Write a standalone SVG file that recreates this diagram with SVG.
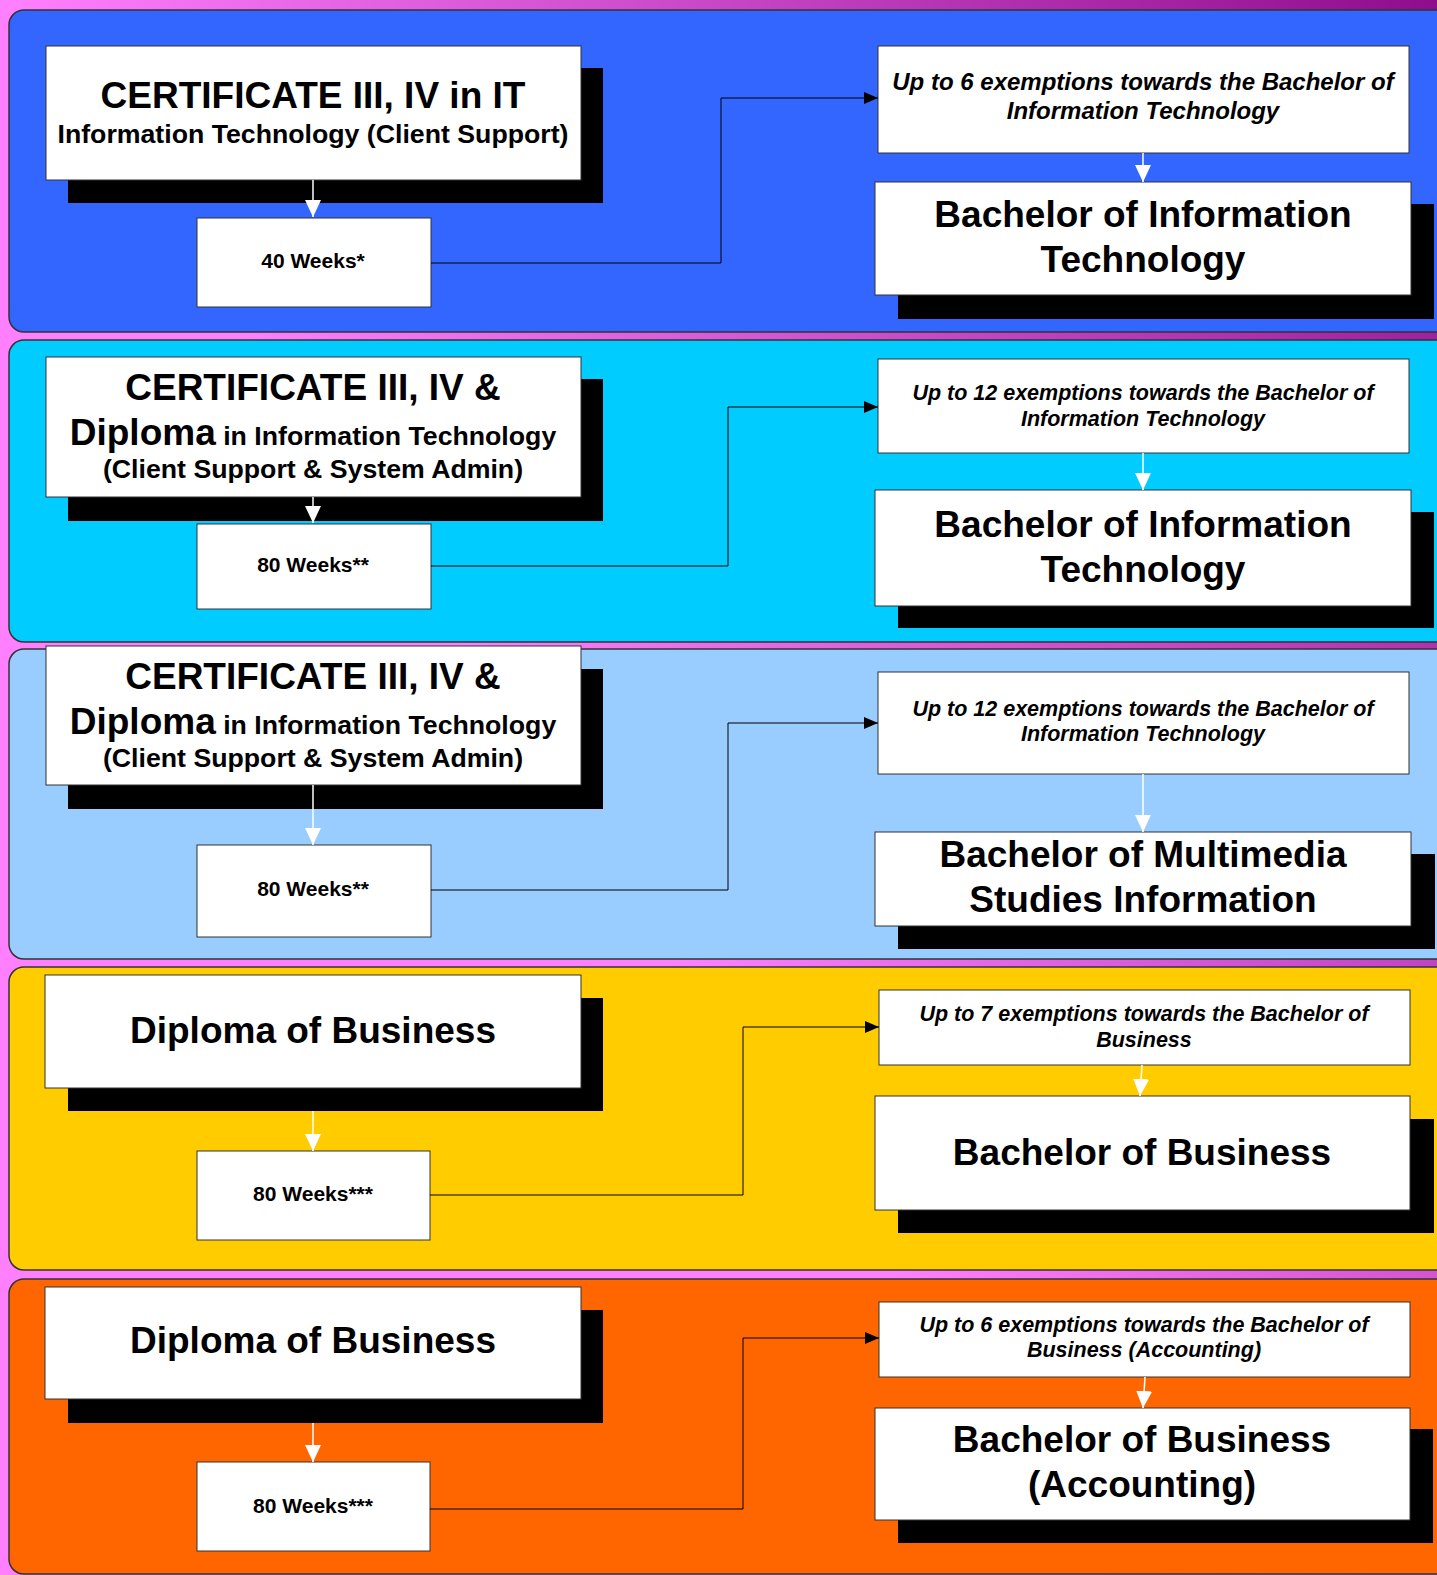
<svg xmlns="http://www.w3.org/2000/svg" width="1437" height="1575" viewBox="0 0 1437 1575">
<style>
.panel{stroke:#333333;stroke-width:1.5}
.box{fill:#ffffff;stroke:#333333;stroke-width:1}
.shadow{fill:#000000}
text{font-family:"Liberation Sans",Arial,sans-serif;font-weight:bold;fill:#000000;text-anchor:middle}
.big{font-size:37px}
.mid{font-size:26.7px}
.wk{font-size:21px}
.ex{font-size:21.5px;font-style:italic}
.ex1{font-size:24px;font-style:italic}
.conn{fill:none;stroke:#000000;stroke-width:1}
.warr{fill:none;stroke:#ffffff;stroke-width:1.5}
</style>
<defs>
<linearGradient id="bg" gradientUnits="userSpaceOnUse" x1="1437" y1="0" x2="0" y2="1000">
<stop offset="0" stop-color="#8d0d8d"/>
<stop offset="0.67" stop-color="#ff80ff"/>
<stop offset="1" stop-color="#ff80ff"/>
</linearGradient>
<marker id="ab" markerUnits="userSpaceOnUse" markerWidth="14" markerHeight="12" refX="14" refY="6" orient="auto">
<path d="M0,0 L14,6 L0,12 z" fill="#000000"/>
</marker>
<marker id="aw" markerUnits="userSpaceOnUse" markerWidth="17" markerHeight="16" refX="17" refY="8" orient="auto">
<path d="M0,0 L17,8 L0,16 z" fill="#ffffff"/>
</marker>
</defs>
<rect x="0" y="0" width="1437" height="1575" fill="url(#bg)"/>
<g id="panels">
<rect class="panel" x="9" y="10" width="1460" height="322" rx="15" fill="#3366ff"/>
<rect class="panel" x="9" y="340" width="1460" height="302" rx="15" fill="#00ccff"/>
<rect class="panel" x="9" y="649" width="1460" height="310" rx="15" fill="#99ccff"/>
<rect class="panel" x="9" y="967" width="1460" height="303" rx="15" fill="#ffcc00"/>
<rect class="panel" x="9" y="1279" width="1460" height="295" rx="15" fill="#ff6600"/>
</g>
<g id="cert1">
<rect class="shadow" x="68" y="68" width="535" height="135"/>
<rect class="box" x="46" y="46" width="535" height="134"/>
<text class="big" x="313" y="108">CERTIFICATE III, IV in IT</text>
<text class="mid" x="313" y="143">Information Technology (Client Support)</text>
</g>
<g id="weeks1">
<rect class="box" x="197" y="218" width="234" height="89"/>
<text class="wk" x="313" y="268">40 Weeks*</text>
</g>
<g id="exempt1">
<rect class="box" x="878" y="46" width="531" height="107"/>
<text class="ex1" x="1143" y="90">Up to 6 exemptions towards the Bachelor of</text>
<text class="ex1" x="1143" y="119">Information Technology</text>
</g>
<g id="bach1">
<rect class="shadow" x="898" y="204" width="536" height="115"/>
<rect class="box" x="875" y="182" width="536" height="113"/>
<text class="big" x="1143" y="227">Bachelor of Information</text>
<text class="big" x="1143" y="272">Technology</text>
</g>
<g id="cert2">
<rect class="shadow" x="68" y="379" width="535" height="142"/>
<rect class="box" x="46" y="357" width="535" height="140"/>
<text class="big" x="313" y="400">CERTIFICATE III, IV &amp;</text>
<text x="313" y="445"><tspan class="big">Diploma</tspan><tspan class="mid"> in Information Technology</tspan></text>
<text class="mid" x="313" y="478">(Client Support &amp; System Admin)</text>
</g>
<g id="weeks2">
<rect class="box" x="197" y="524" width="234" height="85"/>
<text class="wk" x="313" y="572">80 Weeks**</text>
</g>
<g id="exempt2">
<rect class="box" x="878" y="359" width="531" height="94"/>
<text class="ex" x="1143" y="400">Up to 12 exemptions towards the Bachelor of</text>
<text class="ex" x="1143" y="426">Information Technology</text>
</g>
<g id="bach2">
<rect class="shadow" x="898" y="512" width="536" height="116"/>
<rect class="box" x="875" y="490" width="536" height="116"/>
<text class="big" x="1143" y="537">Bachelor of Information</text>
<text class="big" x="1143" y="582">Technology</text>
</g>
<g id="cert3">
<rect class="shadow" x="68" y="669" width="535" height="140"/>
<rect class="box" x="46" y="646" width="535" height="139"/>
<text class="big" x="313" y="689">CERTIFICATE III, IV &amp;</text>
<text x="313" y="734"><tspan class="big">Diploma</tspan><tspan class="mid"> in Information Technology</tspan></text>
<text class="mid" x="313" y="767">(Client Support &amp; System Admin)</text>
</g>
<g id="weeks3">
<rect class="box" x="197" y="845" width="234" height="92"/>
<text class="wk" x="313" y="896">80 Weeks**</text>
</g>
<g id="exempt3">
<rect class="box" x="878" y="672" width="531" height="102"/>
<text class="ex" x="1143" y="716">Up to 12 exemptions towards the Bachelor of</text>
<text class="ex" x="1143" y="741">Information Technology</text>
</g>
<g id="bach3">
<rect class="shadow" x="898" y="854" width="537" height="95"/>
<rect class="box" x="875" y="832" width="536" height="94"/>
<text class="big" x="1143" y="867">Bachelor of Multimedia</text>
<text class="big" x="1143" y="912">Studies Information</text>
</g>
<g id="dipbus1">
<rect class="shadow" x="68" y="998" width="535" height="113"/>
<rect class="box" x="45" y="975" width="536" height="113"/>
<text class="big" x="313" y="1043">Diploma of Business</text>
</g>
<g id="weeks4">
<rect class="box" x="197" y="1151" width="233" height="89"/>
<text class="wk" x="313" y="1201">80 Weeks***</text>
</g>
<g id="exempt4">
<rect class="box" x="879" y="990" width="531" height="75"/>
<text class="ex" x="1144" y="1021">Up to 7 exemptions towards the Bachelor of</text>
<text class="ex" x="1144" y="1047">Business</text>
</g>
<g id="bach4">
<rect class="shadow" x="898" y="1119" width="536" height="114"/>
<rect class="box" x="875" y="1096" width="535" height="114"/>
<text class="big" x="1142" y="1165">Bachelor of Business</text>
</g>
<g id="dipbus2">
<rect class="shadow" x="68" y="1310" width="535" height="113"/>
<rect class="box" x="45" y="1287" width="536" height="112"/>
<text class="big" x="313" y="1353">Diploma of Business</text>
</g>
<g id="weeks5">
<rect class="box" x="197" y="1462" width="233" height="89"/>
<text class="wk" x="313" y="1513">80 Weeks***</text>
</g>
<g id="exempt5">
<rect class="box" x="879" y="1302" width="531" height="75"/>
<text class="ex" x="1144" y="1332">Up to 6 exemptions towards the Bachelor of</text>
<text class="ex" x="1144" y="1357">Business (Accounting)</text>
</g>
<g id="bach5">
<rect class="shadow" x="898" y="1429" width="535" height="114"/>
<rect class="box" x="875" y="1408" width="535" height="112"/>
<text class="big" x="1142" y="1452">Bachelor of Business</text>
<text class="big" x="1142" y="1497">(Accounting)</text>
</g>
<g id="connectors">
<path class="warr" d="M313,180 V217" marker-end="url(#aw)"/>
<path class="warr" d="M313,497 V523" marker-end="url(#aw)"/>
<path class="warr" d="M313,785 V845" marker-end="url(#aw)"/>
<path class="warr" d="M313,1111 V1151" marker-end="url(#aw)"/>
<path class="warr" d="M313,1423 V1462" marker-end="url(#aw)"/>
<path class="warr" d="M1143,153 V182" marker-end="url(#aw)"/>
<path class="warr" d="M1143,453 V490" marker-end="url(#aw)"/>
<path class="warr" d="M1143,774 V832" marker-end="url(#aw)"/>
<path class="warr" d="M1142,1065 L1140,1096" marker-end="url(#aw)"/>
<path class="warr" d="M1145,1377 L1143,1408" marker-end="url(#aw)"/>
<path class="conn" d="M431,263 H721 V98 H878" marker-end="url(#ab)"/>
<path class="conn" d="M431,566 H728 V407 H878" marker-end="url(#ab)"/>
<path class="conn" d="M431,890 H728 V723 H878" marker-end="url(#ab)"/>
<path class="conn" d="M430,1195 H743 V1027 H879" marker-end="url(#ab)"/>
<path class="conn" d="M430,1509 H743 V1338 H879" marker-end="url(#ab)"/>
</g>
</svg>
